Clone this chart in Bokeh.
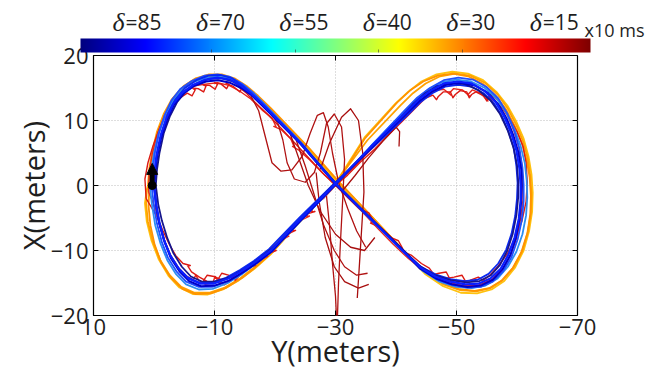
import numpy as np
from bokeh.plotting import figure
from bokeh.models import (Range1d, FixedTicker, LinearAxis, Arrow, NormalHead,
                          LinearColorMapper, ColorBar)
from bokeh.embed import file_html
from bokeh.resources import INLINE

# ---------------- data (Y meters, X meters) ----------------
blue_a = [(0.1,0.0),(-0.1,2.3),(-0.4,4.6),(-1.1,7.7),(-2.1,10.5),(-3.2,12.6),(-4.7,14.3),(-6.5,15.5),(-8.5,16.3),(-10.5,16.6),(-12.5,16.3),(-14.3,15.4),(-16.0,14.2),(-17.9,12.5),(-24.2,6.5),(-30.0,0.3),(-35.8,-5.1),(-40.7,-9.7),(-44.0,-12.6),(-46.5,-14.0),(-49.0,-14.8),(-51.5,-15.2),(-53.6,-15.1),(-55.6,-14.3),(-57.3,-12.8),(-58.6,-10.6),(-59.6,-8.0),(-60.3,-5.1),(-60.6,-2.3),(-60.6,0.0),(-60.4,2.6),(-59.9,5.4),(-59.1,7.9),(-57.9,10.6),(-56.5,12.8),(-54.6,14.6),(-52.5,15.7),(-50.2,16.0),(-47.9,15.7),(-45.7,14.6),(-43.7,13.2),(-41.6,11.2),(-35.8,5.9),(-30.0,0.3),(-24.2,-5.2),(-19.3,-10.0),(-16.8,-11.7),(-14.6,-13.1),(-12.3,-14.3),(-9.8,-15.1),(-7.7,-15.1),(-5.7,-14.3),(-4.1,-12.8),(-2.7,-10.8),(-1.7,-8.5),(-0.9,-5.7),(-0.4,-3.1),(-0.1,-0.8),(0.1,0.0)]
blue_b = [(-0.3,0.0),(-0.5,2.5),(-0.9,5.0),(-1.6,8.0),(-2.6,10.6),(-3.8,12.8),(-5.3,14.5),(-7.1,15.7),(-9.1,16.4),(-11.1,16.5),(-13.0,16.0),(-14.8,15.0),(-16.5,13.7),(-18.4,12.0),(-24.5,6.2),(-30.0,0.4),(-35.6,-4.8),(-40.5,-9.3),(-43.8,-12.3),(-46.4,-13.8),(-49.1,-14.6),(-51.6,-14.9),(-53.8,-14.7),(-55.7,-13.8),(-57.2,-12.2),(-58.4,-10.0),(-59.3,-7.4),(-59.9,-4.6),(-60.2,-1.8),(-60.2,0.6),(-60.0,3.2),(-59.4,5.9),(-58.5,8.4),(-57.2,11.0),(-55.6,13.1),(-53.6,14.7),(-51.4,15.6),(-49.1,15.8),(-46.8,15.3),(-44.7,14.1),(-42.8,12.5),(-40.9,10.6),(-35.6,5.6),(-30.0,0.4),(-24.5,-4.9),(-19.6,-9.6),(-17.2,-11.4),(-14.9,-12.9),(-12.6,-14.1),(-10.1,-14.8),(-8.0,-14.8),(-6.1,-14.0),(-4.6,-12.5),(-3.2,-10.4),(-2.2,-8.1),(-1.3,-5.4),(-0.7,-2.9),(-0.4,-0.7),(-0.3,0.0)]
blue_c = [(0.4,0.0),(0.2,2.4),(-0.1,4.8),(-0.8,8.0),(-1.8,10.9),(-2.9,13.1),(-4.4,14.9),(-6.3,16.1),(-8.4,16.9),(-10.5,17.1),(-12.6,16.7),(-14.5,15.7),(-16.2,14.4),(-18.1,12.6),(-24.3,6.6),(-30.1,0.2),(-36.0,-5.3),(-41.0,-9.9),(-44.3,-12.9),(-46.8,-14.4),(-49.3,-15.3),(-51.8,-15.7),(-54.0,-15.6),(-56.0,-14.8),(-57.7,-13.2),(-59.1,-11.0),(-60.1,-8.3),(-60.8,-5.3),(-61.1,-2.4),(-61.1,0.1),(-60.9,2.8),(-60.4,5.7),(-59.6,8.3),(-58.4,11.1),(-56.9,13.4),(-54.9,15.2),(-52.7,16.3),(-50.3,16.6),(-47.9,16.2),(-45.6,15.0),(-43.5,13.5),(-41.4,11.5),(-35.9,6.1),(-30.1,0.2),(-24.1,-5.5),(-19.1,-10.4),(-16.6,-12.1),(-14.4,-13.6),(-12.1,-14.8),(-9.6,-15.6),(-7.4,-15.6),(-5.3,-14.8),(-3.7,-13.2),(-2.3,-11.1),(-1.3,-8.7),(-0.5,-5.9),(0.0,-3.2),(0.3,-0.8),(0.4,0.0)]
blue_d = [(-0.1,0.0),(-0.3,2.6),(-0.6,5.1),(-1.3,8.2),(-2.3,11.0),(-3.5,13.2),(-5.1,15.0),(-7.0,16.2),(-9.0,16.9),(-11.0,17.0),(-12.9,16.5),(-14.6,15.4),(-16.2,14.0),(-18.0,12.3),(-24.0,6.7),(-29.9,0.4),(-35.9,-5.2),(-40.9,-9.8),(-44.1,-12.5),(-46.6,-13.7),(-49.0,-14.4),(-51.4,-14.7),(-53.5,-14.5),(-55.3,-13.6),(-56.9,-12.0),(-58.2,-9.9),(-59.1,-7.4),(-59.7,-4.7),(-60.0,-2.0),(-60.1,0.4),(-59.9,3.0),(-59.5,5.6),(-58.7,8.0),(-57.6,10.5),(-56.3,12.5),(-54.5,14.2),(-52.5,15.2),(-50.3,15.5),(-48.1,15.2),(-46.0,14.2),(-44.0,12.8),(-42.0,10.9),(-36.0,5.7),(-29.9,0.4),(-24.0,-5.0),(-19.0,-9.8),(-16.5,-11.6),(-14.2,-13.0),(-11.9,-14.2),(-9.5,-14.9),(-7.4,-14.9),(-5.5,-14.1),(-3.9,-12.6),(-2.6,-10.6),(-1.6,-8.3),(-0.8,-5.5),(-0.3,-2.9),(-0.1,-0.7),(-0.1,0.0)]
blue_e = [(0.0,0.0),(-0.2,2.2),(-0.5,4.4),(-1.2,7.4),(-2.2,10.2),(-3.3,12.4),(-4.8,14.1),(-6.6,15.3),(-8.6,16.0),(-10.6,16.2),(-12.6,15.8),(-14.4,15.0),(-16.1,13.9),(-18.0,12.2),(-24.2,6.4),(-30.0,0.2),(-35.7,-5.0),(-40.6,-9.5),(-44.0,-12.8),(-46.6,-14.3),(-49.2,-15.2),(-51.8,-15.6),(-54.0,-15.4),(-56.0,-14.5),(-57.6,-12.9),(-58.9,-10.7),(-59.8,-8.1),(-60.4,-5.2),(-60.7,-2.4),(-60.8,0.0),(-60.7,2.5),(-60.2,5.2),(-59.4,7.7),(-58.3,10.3),(-56.9,12.5),(-55.1,14.3),(-53.0,15.4),(-50.7,15.8),(-48.3,15.5),(-46.0,14.5),(-44.0,13.1),(-41.8,11.1),(-35.9,5.8),(-30.0,0.2),(-24.3,-5.3),(-19.5,-10.1),(-17.0,-11.9),(-14.8,-13.3),(-12.5,-14.6),(-10.0,-15.4),(-7.8,-15.5),(-5.8,-14.7),(-4.2,-13.2),(-2.8,-11.2),(-1.8,-8.8),(-0.9,-5.9),(-0.4,-3.2),(-0.1,-0.8),(0.0,0.0)]
light_blue = [(0.6,0.0),(0.4,2.5),(0.0,5.0),(-0.8,8.1),(-1.9,10.9),(-3.1,13.0),(-4.6,14.7),(-6.5,15.9),(-8.6,16.6),(-10.7,16.8),(-12.8,16.4),(-14.7,15.5),(-16.5,14.2),(-18.4,12.4),(-24.4,6.5),(-30.1,0.2),(-35.9,-5.3),(-41.0,-10.0),(-44.5,-13.2),(-47.2,-14.8),(-49.9,-15.6),(-52.5,-15.8),(-54.8,-15.4),(-56.8,-14.3),(-58.5,-12.5),(-59.9,-10.2),(-60.9,-7.5),(-61.5,-4.6),(-61.7,-1.8),(-61.6,0.8),(-61.3,3.4),(-60.6,6.1),(-59.6,8.6),(-58.3,11.1),(-56.7,13.3),(-54.7,15.0),(-52.4,16.0),(-50.0,16.3),(-47.6,15.9),(-45.4,14.8),(-43.4,13.3),(-41.4,11.4),(-35.8,6.0),(-30.1,0.2),(-24.4,-5.3),(-19.4,-10.2),(-16.9,-12.0),(-14.6,-13.6),(-12.2,-15.0),(-9.7,-15.9),(-7.4,-16.0),(-5.3,-15.2),(-3.6,-13.6),(-2.2,-11.5),(-1.1,-9.0),(-0.2,-6.1),(0.3,-3.2),(0.6,-0.8),(0.6,0.0)]
orange_a = [(1.0,0.0),(0.8,2.5),(0.3,5.2),(-0.5,8.3),(-1.6,11.0),(-2.9,13.2),(-4.6,15.0),(-6.6,16.2),(-8.8,16.8),(-10.9,16.9),(-13.0,16.4),(-15.0,15.3),(-16.9,13.9),(-19.0,12.0),(-25.3,6.0),(-30.3,0.8),(-36.2,-5.0),(-41.3,-10.0),(-44.9,-13.4),(-47.8,-15.2),(-50.6,-16.1),(-53.3,-16.3),(-55.6,-15.8),(-57.7,-14.5),(-59.5,-12.5),(-60.9,-10.0),(-61.8,-7.1),(-62.3,-4.2),(-62.4,-1.4),(-62.2,1.4),(-61.8,4.1),(-61.0,6.8),(-59.9,9.3),(-58.5,11.8),(-56.8,14.0),(-54.7,15.8),(-52.3,16.9),(-49.8,17.2),(-47.3,16.8),(-44.9,15.7),(-42.8,14.2),(-40.7,12.3),(-35.3,7.0),(-30.3,0.8),(-24.6,-4.8),(-19.4,-10.3),(-16.7,-12.5),(-14.2,-14.3),(-11.7,-15.7),(-9.1,-16.5),(-6.7,-16.5),(-4.5,-15.6),(-2.6,-13.8),(-1.0,-11.4),(0.2,-8.6),(1.0,-5.6),(1.3,-2.8),(1.2,-0.8),(1.0,0.0)]
orange_b = [(0.6,0.0),(0.4,2.6),(0.0,5.3),(-0.8,8.5),(-1.9,11.3),(-3.2,13.5),(-4.9,15.3),(-6.9,16.5),(-9.1,17.1),(-11.2,17.1),(-13.3,16.5),(-15.3,15.3),(-17.2,13.8),(-19.3,11.9),(-25.6,5.8),(-30.4,0.7),(-36.0,-4.8),(-41.0,-9.8),(-44.6,-13.1),(-47.5,-14.9),(-50.3,-15.9),(-53.0,-16.2),(-55.4,-15.8),(-57.5,-14.6),(-59.3,-12.7),(-60.7,-10.3),(-61.7,-7.4),(-62.2,-4.4),(-62.3,-1.6),(-62.1,1.2),(-61.6,3.9),(-60.8,6.6),(-59.6,9.2),(-58.2,11.7),(-56.4,13.9),(-54.3,15.7),(-51.9,16.8),(-49.4,17.2),(-46.9,16.9),(-44.5,16.0),(-42.3,14.6),(-40.2,12.8),(-34.9,7.3),(-30.4,0.7),(-24.8,-4.9),(-19.6,-10.2),(-17.0,-12.4),(-14.6,-14.2),(-12.0,-15.7),(-9.4,-16.6),(-6.9,-16.7),(-4.7,-15.9),(-2.8,-14.2),(-1.2,-11.9),(-0.1,-9.1),(0.6,-6.1),(0.9,-3.1),(0.8,-0.9),(0.6,0.0)]
yellow_orange = [(0.8,0.0),(0.6,2.4),(0.2,4.9),(-0.6,8.0),(-1.7,10.8),(-3.0,13.1),(-4.8,15.1),(-6.8,16.4),(-9.0,17.0),(-11.1,16.9),(-13.2,16.2),(-15.2,15.0),(-17.1,13.5),(-19.1,11.7),(-25.4,5.7),(-30.2,0.6),(-36.1,-5.0),(-41.2,-10.1),(-44.8,-13.6),(-47.8,-15.5),(-50.7,-16.5),(-53.4,-16.6),(-55.8,-16.0),(-57.9,-14.7),(-59.7,-12.6),(-61.1,-10.0),(-62.0,-7.0),(-62.5,-4.0),(-62.6,-1.1),(-62.4,1.7),(-61.9,4.5),(-61.1,7.2),(-59.9,9.8),(-58.4,12.3),(-56.6,14.4),(-54.4,16.2),(-51.9,17.2),(-49.3,17.5),(-46.7,17.1),(-44.2,16.0),(-42.0,14.4),(-39.9,12.6),(-34.8,7.4),(-30.2,0.6),(-24.5,-5.0),(-19.3,-10.6),(-16.6,-12.8),(-14.0,-14.6),(-11.4,-16.0),(-8.8,-16.8),(-6.4,-16.7),(-4.2,-15.7),(-2.4,-13.9),(-0.8,-11.4),(0.4,-8.5),(1.2,-5.5),(1.5,-2.7),(1.2,-0.7),(0.8,0.0)]
red_a = [(1.3,-2.0),(1.5,1.0),(1.0,3.5),(0.2,6.0),(-1.0,9.0),(-2.4,11.5),(-4.0,13.3),(-5.5,14.2),(-6.3,13.8),(-6.8,14.7),(-6.3,15.0),(-7.3,14.9),(-8.2,14.4),(-8.6,15.3),(-8.1,15.5),(-9.2,15.4),(-10.1,14.8),(-10.5,15.6),(-10.0,15.8),(-11.1,15.6),(-12.0,14.9),(-12.4,15.6),(-11.9,15.7),(-13.0,15.3),(-14.2,14.4),(-14.5,15.0),(-14.1,15.1),(-15.3,14.2),(-16.6,12.9),(-18.6,11.1),(-21.0,8.8),(-23.5,6.3),(-26.0,3.8),(-28.2,1.6),(-30.0,0.0),(-32.0,-1.8),(-34.0,-3.6),(-35.5,-4.2),(-36.2,-5.4),(-35.8,-5.8),(-37.5,-6.5),(-39.4,-8.1),(-40.4,-8.5),(-41.1,-9.7),(-40.7,-10.0),(-42.5,-10.7),(-44.2,-12.0),(-45.5,-12.7),(-46.2,-13.6),(-45.8,-13.8),(-47.1,-13.5),(-48.3,-13.3),(-48.8,-14.2),(-48.3,-14.3),(-49.6,-14.1),(-50.9,-13.8),(-51.4,-14.6),(-50.9,-14.8),(-52.2,-14.6),(-53.6,-14.1),(-54.4,-14.6),(-55.5,-13.8),(-56.8,-12.5),(-58.4,-10.5),(-59.8,-8.0),(-60.8,-5.5),(-61.5,-2.5),(-61.7,0.5),(-61.5,3.5),(-61.0,6.0),(-60.0,8.3),(-58.8,10.3),(-57.5,12.0),(-56.2,13.0),(-55.4,13.6),(-55.0,13.0),(-54.5,13.8),(-53.2,14.4),(-52.5,14.0),(-52.1,13.5),(-51.7,14.4),(-50.6,14.6),(-49.8,14.0),(-49.4,13.5),(-49.0,14.4),(-47.8,14.4),(-47.0,13.7),(-46.7,13.2),(-46.1,13.9),(-44.8,13.4),(-43.5,12.2),(-41.5,10.3),(-39.0,8.0),(-36.5,5.6),(-34.0,3.5),(-32.0,1.6),(-30.0,0.0),(-28.0,-2.0),(-26.5,-3.0),(-26.0,-4.1),(-26.6,-4.0),(-25.2,-4.4),(-23.5,-5.8),(-22.8,-7.0),(-23.4,-6.9),(-22.0,-7.5),(-20.3,-9.0),(-19.6,-10.1),(-20.2,-10.0),(-18.8,-10.5),(-17.0,-11.4),(-16.2,-12.4),(-16.8,-12.3),(-15.4,-12.6),(-13.8,-13.3),(-13.0,-14.2),(-13.5,-14.3),(-12.3,-13.8),(-11.2,-13.5),(-10.6,-14.4),(-11.1,-14.5),(-9.9,-14.0),(-8.8,-13.8),(-8.2,-14.6),(-8.7,-14.7),(-7.5,-14.1),(-6.2,-13.3),(-5.6,-12.4),(-6.0,-12.3),(-4.8,-12.0),(-3.6,-10.8),(-2.5,-9.0),(-1.5,-7.0),(-0.6,-5.0),(0.4,-3.4),(1.3,-2.0)]
red_b = [(0.9,-1.0),(0.8,2.0),(0.3,4.8),(-0.6,8.0),(-1.7,10.7),(-3.0,12.8),(-4.6,14.4),(-6.5,15.3),(-8.5,15.6),(-10.5,15.8),(-12.4,15.4),(-14.2,14.5),(-16.0,13.3),(-18.0,11.5),(-19.5,10.4),(-20.2,9.0),(-19.8,9.1),(-21.0,8.6),(-22.6,7.2),(-23.2,5.9),(-22.9,6.0),(-24.0,5.4),(-25.8,3.9),(-27.9,1.9),(-30.0,0.1),(-32.2,-2.0),(-34.5,-4.1),(-37.0,-6.6),(-39.5,-9.0),(-42.0,-11.2),(-44.3,-12.9),(-46.6,-14.2),(-49.0,-15.0),(-51.4,-15.4),(-53.7,-15.3),(-55.8,-14.5),(-57.5,-13.0),(-58.9,-10.8),(-59.9,-8.2),(-60.6,-5.2),(-61.0,-2.2),(-61.0,0.5),(-60.8,3.2),(-60.3,5.9),(-59.5,8.4),(-58.4,10.9),(-57.0,13.0),(-55.6,14.0),(-54.9,13.4),(-55.2,13.0),(-54.0,14.2),(-52.6,14.7),(-51.9,14.0),(-52.2,13.7),(-51.0,14.7),(-49.5,14.9),(-48.8,14.2),(-49.1,13.9),(-47.9,14.8),(-46.4,14.6),(-45.0,13.7),(-43.3,12.3),(-41.3,10.5),(-38.5,7.9),(-35.7,5.4),(-32.9,2.7),(-30.0,0.1),(-27.8,-2.1),(-25.9,-3.5),(-25.2,-4.8),(-25.7,-4.7),(-24.4,-5.3),(-22.6,-6.6),(-21.8,-7.9),(-22.3,-7.8),(-21.0,-8.4),(-19.2,-9.8),(-18.3,-11.0),(-18.8,-10.9),(-17.3,-11.5),(-15.5,-12.4),(-14.3,-13.7),(-13.4,-14.6),(-13.0,-13.8),(-12.6,-14.7),(-11.6,-15.3),(-10.6,-14.7),(-10.1,-14.0),(-9.7,-15.0),(-8.5,-15.2),(-7.4,-14.6),(-6.9,-13.8),(-6.5,-14.5),(-5.3,-13.9),(-4.0,-12.6),(-2.8,-10.8),(-1.8,-8.6),(-0.9,-6.0),(-0.2,-3.5),(0.5,-1.9),(0.9,-1.0)]
dark_red_1 = [(-19.0,11.5),(-20.5,9.5),(-21.3,7.0),(-22.0,3.5),(-23.2,1.0),(-25.0,0.5),(-26.5,2.0),(-27.5,5.0),(-28.5,9.5),(-29.8,11.0),(-31.0,9.0),(-31.5,4.0),(-31.2,-2.0),(-30.8,-9.0),(-30.5,-15.0),(-30.3,-21.0)]
dark_red_2 = [(-27.5,2.5),(-29.0,6.5),(-31.0,10.5),(-32.5,11.8),(-33.8,10.0),(-34.5,5.0),(-34.7,-1.0),(-34.3,-7.0),(-33.9,-13.0),(-33.6,-17.3)]
dark_red_3 = [(-16.0,13.8),(-17.3,11.5),(-18.4,7.5),(-19.5,3.5),(-21.0,2.2),(-22.8,2.4),(-24.5,4.5),(-25.8,8.0),(-27.0,10.8),(-28.0,11.2),(-28.8,9.0),(-29.5,5.0),(-30.5,0.5),(-32.0,-3.5),(-33.5,-7.0),(-35.0,-9.5)]
dark_red_4 = [(-22.5,8.0),(-24.0,4.0),(-25.5,0.0),(-27.5,-4.0),(-30.0,-7.5),(-32.5,-9.5),(-34.8,-10.0),(-36.5,-8.0)]
dark_red_5 = [(-23.5,7.0),(-25.0,3.0),(-26.5,-1.5),(-28.0,-6.0),(-29.8,-10.0),(-31.5,-12.5),(-33.5,-13.8),(-35.3,-13.5)]
dark_red_6 = [(-31.0,-1.0),(-33.2,1.5),(-35.5,4.3),(-37.8,6.8),(-40.0,9.0),(-40.6,8.3),(-40.5,6.0)]
dark_red_7 = [(-28.5,-1.5),(-29.0,-6.0),(-29.5,-12.0),(-30.0,-17.0),(-30.2,-21.0)]
dark_red_8 = [(-26.8,2.0),(-27.3,-2.5),(-28.3,-8.0),(-29.8,-12.5),(-31.5,-14.8),(-33.8,-15.8),(-35.5,-15.2)]

arrow_y = 0.3          # Y position of the start arrow
arrow_x = [0.0, 3.4]   # X from tail to tip

delta_labels = ["85", "70", "55", "40", "30", "15"]
unit_label = "x10 ms"
x_ticks = [10, -10, -30, -50, -70]
y_ticks = [-20, -10, 0, 10, 20]
x_grid = [-10, -30, -50]
y_grid = [-10, 0, 10]

# ---------------- styles / layout ----------------
FONT = "Open Sans"
TXT = "#1e1e1e"
W, H = 658, 372
FL, FR, FT, FB = 93, 577, 55, 315          # frame edges in page pixels
X0, X1, Y0, Y1 = 10, -70, -20, 20

def jet_hex(t):
    r = min(max(1.5 - abs(4 * t - 3), 0), 1)
    g = min(max(1.5 - abs(4 * t - 2), 0), 1)
    b = min(max(1.5 - abs(4 * t - 1), 0), 1)
    return "#%02x%02x%02x" % (int(r * 255), int(g * 255), int(b * 255))

JET = [jet_hex(i / 255) for i in range(256)]

def minus(v):
    return str(v).replace("-", "\u2212")

p = figure(width=W, height=H, x_range=Range1d(X0, X1), y_range=Range1d(Y0, Y1),
           toolbar_location=None, output_backend="svg",
           min_border_left=FL, min_border_right=W - FR, min_border_top=FT,
           min_border_bottom=H - FB)
p.background_fill_color = "white"
p.border_fill_color = "white"
p.outline_line_color = "black"
p.outline_line_width = 1.2

for ax, ticks, lab in ((p.xaxis, x_ticks, "Y(meters)"), (p.yaxis, y_ticks, "X(meters)")):
    ax.ticker = FixedTicker(ticks=ticks)
    ax.major_label_overrides = {t: minus(t) for t in ticks}
    ax.major_tick_in = 5
    ax.major_tick_out = 0
    ax.major_tick_line_color = "black"
    ax.minor_tick_line_color = None
    ax.axis_line_color = None
    ax.major_label_text_font = FONT
    ax.major_label_text_font_size = "22px"
    ax.major_label_text_color = TXT
    ax.axis_label = lab
    ax.axis_label_text_font = FONT
    ax.axis_label_text_font_size = "29px"
    ax.axis_label_text_font_style = "normal"
    ax.axis_label_text_color = TXT
p.xaxis.major_label_standoff = 3
p.xaxis.axis_label_standoff = -7
p.yaxis.major_label_standoff = 5
p.yaxis.axis_label_standoff = -5

for side, ticks in (("above", x_grid), ("right", y_grid)):
    ax = LinearAxis(ticker=FixedTicker(ticks=ticks), major_tick_in=5, major_tick_out=0,
                    major_tick_line_color="black", minor_tick_line_color=None,
                    axis_line_color=None, major_label_standoff=0,
                    major_label_overrides={t: "" for t in ticks},
                    major_label_text_font_size="1px")
    p.add_layout(ax, side)

p.xgrid.ticker = FixedTicker(ticks=x_grid)
p.ygrid.ticker = FixedTicker(ticks=y_grid)
p.grid.grid_line_color = "#bdbdbd"
p.grid.grid_line_dash = "1 2"
p.grid.grid_line_width = 1

# ---------------- colour bar above the frame ----------------
bar_left, bar_right, bar_top, bar_bottom = 80, 590, 38, 52
lab_frac = [0.102 + 0.1636 * i for i in range(len(delta_labels))]
tick_frac = [f - 0.008 for f in lab_frac[1:-1]]
mapper = LinearColorMapper(palette=JET, low=0, high=1)
cbar = ColorBar(color_mapper=mapper, orientation="horizontal",
                location=(bar_left - FL, FB - bar_bottom),
                width=bar_right - bar_left, height=bar_bottom - bar_top,
                padding=0, margin=0, title=None,
                ticker=FixedTicker(ticks=tick_frac),
                major_label_overrides={t: "" for t in tick_frac},
                major_label_text_font_size="1px", label_standoff=0,
                major_tick_in=3, major_tick_out=0, major_tick_line_color="#333333",
                major_tick_line_alpha=0.6, minor_tick_line_color=None,
                bar_line_color=None, border_line_color=None,
                background_fill_color=None)
p.add_layout(cbar, "center")

# texts above the bar: transparent colour bars spanning the page width, in page pixels
centers = [bar_left + (bar_right - bar_left) * f for f in lab_frac]
px_mapper = LinearColorMapper(palette=JET, low=0, high=W)

def text_row(ticks, texts, font, size, style, label_top, box_h):
    cb = ColorBar(color_mapper=px_mapper, orientation="horizontal", scale_alpha=0,
                  location=(-FL, FB - (label_top + box_h)), width=W, height=1,
                  padding=0, margin=0, title=None, label_standoff=0,
                  ticker=FixedTicker(ticks=ticks),
                  major_label_overrides={t: s for t, s in zip(ticks, texts)},
                  major_label_text_font=font, major_label_text_font_size=size,
                  major_label_text_font_style=style, major_label_text_color=TXT,
                  major_tick_line_color=None, minor_tick_line_color=None,
                  bar_line_color=None, border_line_color=None,
                  background_fill_color=None)
    p.add_layout(cb, "center")

text_row([c - 14 for c in centers], ["\u03b4"] * len(centers), "Liberation Serif", "26px",
         "italic", 8, 31)
text_row([c + 11 for c in centers], ["=" + s for s in delta_labels], FONT, "21px",
         "normal", 10, 28)
text_row([614], [unit_label], FONT, "18px", "normal", 20, 24)

# ---------------- trajectories ----------------
layers = [
    (yellow_orange, "#ffc20e", 1.8),
    (orange_a, "#ffa200", 1.8),
    (orange_b, "#ff9300", 1.8),
    (red_b, "#e8261c", 1.4),
    (red_a, "#dc1a14", 1.4),
    (dark_red_1, "#b01212", 1.3),
    (dark_red_2, "#a80e0e", 1.3),
    (dark_red_3, "#b01212", 1.3),
    (dark_red_4, "#a80e0e", 1.3),
    (dark_red_5, "#b01212", 1.3),
    (dark_red_6, "#a80e0e", 1.3),
    (dark_red_7, "#b01212", 1.3),
    (dark_red_8, "#a80e0e", 1.3),
    (light_blue, "#2e8ef0", 1.8),
    (blue_c, "#1f4fff", 1.8),
    (blue_d, "#0a28f0", 1.8),
    (blue_b, "#16168c", 1.8),
    (blue_e, "#0000c8", 2.0),
    (blue_a, "#0a1eff", 2.2),
]
for pts, col, w in layers:
    p.line(x=[q[0] for q in pts], y=[q[1] for q in pts], line_color=col, line_width=w,
           line_join="round")

p.add_layout(Arrow(end=NormalHead(size=11, fill_color="black", line_color="black"),
                   x_start=arrow_y, y_start=arrow_x[0], x_end=arrow_y, y_end=arrow_x[1],
                   line_color="black", line_width=5))
p.scatter(x=[arrow_y], y=[arrow_x[0]], size=8, color="black")

open("out.html", "w").write(file_html(p, INLINE))
